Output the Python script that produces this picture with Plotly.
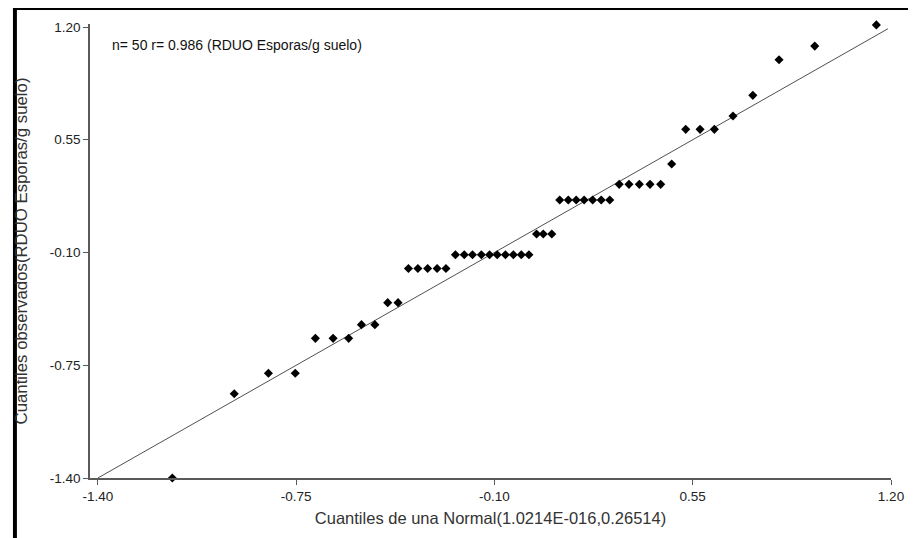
import plotly.graph_objects as go

x_theor = [-1.156, -0.953, -0.841, -0.753, -0.687, -0.629, -0.578, -0.536, -0.492, -0.450,
           -0.416, -0.382, -0.351, -0.319, -0.288, -0.259, -0.228, -0.199, -0.172, -0.143,
           -0.116, -0.091, -0.064, -0.038, -0.012, 0.013, 0.038, 0.060, 0.088, 0.114,
           0.142, 0.168, 0.194, 0.222, 0.250, 0.278, 0.309, 0.341, 0.375, 0.410,
           0.445, 0.481, 0.527, 0.574, 0.621, 0.682, 0.747, 0.833, 0.950, 1.152]
y_obs = [-1.40, -0.914, -0.796, -0.796, -0.595, -0.595, -0.595, -0.516, -0.516, -0.389,
         -0.389, -0.192, -0.192, -0.192, -0.192, -0.192, -0.113, -0.113, -0.113, -0.113,
         -0.113, -0.113, -0.113, -0.113, -0.113, -0.113, 0.007, 0.007, 0.007, 0.203,
         0.203, 0.203, 0.203, 0.203, 0.203, 0.203, 0.293, 0.293, 0.293, 0.293,
         0.293, 0.410, 0.610, 0.610, 0.610, 0.687, 0.806, 1.011, 1.090, 1.212]

# Reference line y = x
line_x = [-1.40, 1.19]
line_y = [-1.40, 1.19]

tick_vals = [-1.40, -0.75, -0.10, 0.55, 1.20]
tick_text = ["-1.40", "-0.75", "-0.10", "0.55", "1.20"]

FONT = "Liberation Sans, Arial, sans-serif"

fig = go.Figure()
fig.add_trace(go.Scatter(x=line_x, y=line_y, mode="lines",
                         line=dict(color="#505050", width=1), hoverinfo="skip",
                         cliponaxis=False))
fig.add_trace(go.Scatter(x=x_theor, y=y_obs, mode="markers", cliponaxis=False,
                         marker=dict(symbol="diamond", size=7, color="black",
                                     line=dict(width=0))))

# page has an 8px body margin; figure coordinates = page - 8
W, H = 908, 530
L, R, T, B = 77, 20, 16, 60
pw, ph = W - L - R, H - T - B

def px(xp):
    return (xp - 8 - L) / pw

def py(yp):
    return (H - B - (yp - 8)) / ph

axis_common = dict(
    showgrid=False, zeroline=False, showline=True, linecolor="#5a5a5a", linewidth=1.5,
    ticks="outside", ticklen=5, tickwidth=1.2, tickcolor="#5a5a5a",
    tickvals=tick_vals, ticktext=tick_text,
    tickfont=dict(family=FONT, size=13.5, color="#222222"),
    mirror=False,
)

fig.update_layout(
    width=W, height=H,
    margin=dict(l=L, r=R, t=T, b=B),
    paper_bgcolor="white", plot_bgcolor="white",
    showlegend=False,
    xaxis=dict(range=[-1.4259, 1.20], **axis_common,
               title=dict(text="Cuantiles de una Normal(1.0214E-016,0.26514)",
                          font=dict(family=FONT, size=16.5, color="#333333"), standoff=9)),
    yaxis=dict(range=[-1.40, 1.2173], **axis_common,
               title=dict(text="Cuantiles observados(RDUO Esporas/g suelo)",
                          font=dict(family=FONT, size=16.8, color="#333333"), standoff=18)),
    annotations=[dict(text="n= 50 r= 0.986 (RDUO Esporas/g suelo)", xref="paper", yref="paper",
                      x=px(105), y=py(45), xanchor="left", yanchor="middle", showarrow=False,
                      font=dict(family=FONT, size=14, color="#111111"))],
    shapes=[
        dict(type="rect", xref="paper", yref="paper", x0=px(7), x1=px(920), y0=py(10), y1=py(4),
             fillcolor="black", line=dict(width=0), layer="above"),
        dict(type="rect", xref="paper", yref="paper", x0=px(7), x1=px(11), y0=py(545), y1=py(4),
             fillcolor="black", line=dict(width=0), layer="above"),
    ],
)

fig.write_html("out.html")
